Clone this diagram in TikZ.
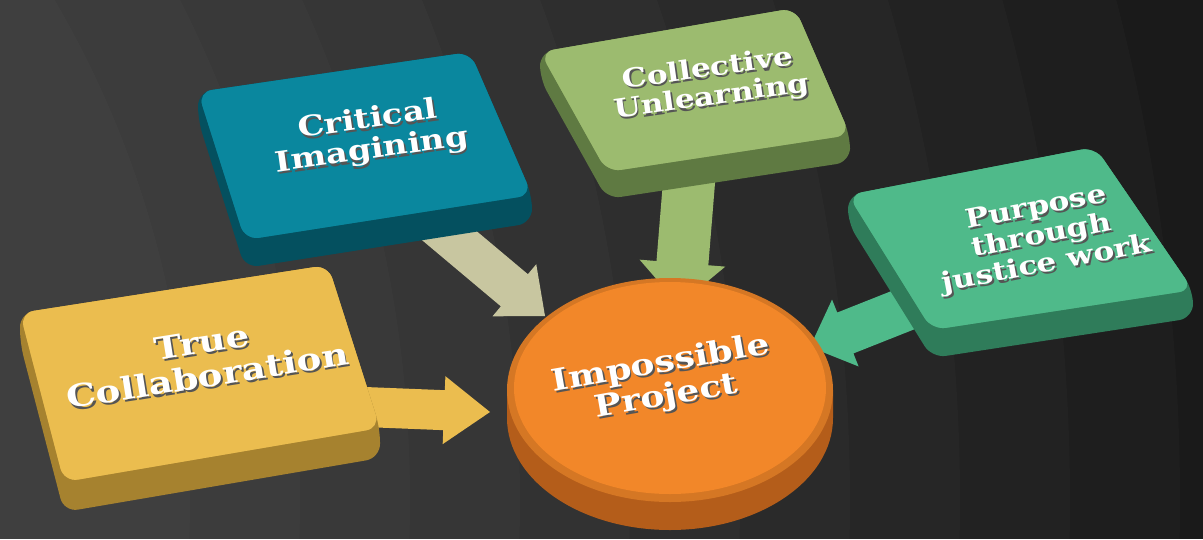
\documentclass[tikz,border=0pt]{standalone}
\usepackage{fontspec}
\newfontfamily\slabfont{DejaVu Serif}[FakeStretch=1.2]
\usetikzlibrary{calc}

\definecolor{bgdark}{HTML}{121212}
\definecolor{collabtop}{HTML}{EBBD4F}
\definecolor{collabside}{HTML}{A6822F}
\definecolor{criticaltop}{HTML}{0A879E}
\definecolor{criticalside}{HTML}{04505F}
\definecolor{unlearntop}{HTML}{9CBB6F}
\definecolor{unlearnside}{HTML}{5F7A42}
\definecolor{purposetop}{HTML}{4FBA8A}
\definecolor{purposeside}{HTML}{2F7C5A}
\definecolor{projecttop}{HTML}{F28729}
\definecolor{projectside}{HTML}{B45D1A}
\definecolor{critarrow}{HTML}{C8C6A0}
\definecolor{shadowgray}{HTML}{555555}

% block arrow: from, to, colour, shaft half width, head half width, head length
\newcommand{\blockarrow}[6]{%
  \coordinate (ah) at ($(#2)!#6!(#1)$);
  \fill[#3] ($(#1)!#4!90:(#2)$) -- ($(ah)!#4!90:(#2)$) -- ($(ah)!#5!90:(#2)$) -- (#2)
    -- ($(ah)!#5!-90:(#2)$) -- ($(ah)!#4!-90:(#2)$) -- ($(#1)!#4!-90:(#2)$) -- cycle;
}
% one line of text with its grey drop shadow
\newcommand{\shd}[1]{\leavevmode\rlap{\kern1.5pt\raisebox{-2.5pt}{\textcolor{shadowgray}{#1}}}#1}

\begin{document}
\begin{tikzpicture}
    [x=1pt, y=-1pt,
    boxtext/.style={text=white, align=center, inner sep=0pt,
      font=\slabfont\bfseries\linespread{1.1}\fontsize{#1}{#1}\selectfont},
    boxtext/.default=26,
    slab/.style={rounded corners=14pt}]

    \useasboundingbox (0,0) rectangle (1203,539);
    \clip (0,0) rectangle (1203,539);

    % background with soft rings
    \fill[bgdark] (0,0) rectangle (1203,539);
    \foreach \r in {2200,2090,...,900}
      \fill[white, opacity=0.018] (-800,500) circle (\r);

    % corners of the slabs
    \coordinate (c1) at (198,92);  \coordinate (c2) at (470,52);
    \coordinate (c3) at (532,195); \coordinate (c4) at (245,240);
    \coordinate (u1) at (540,52);  \coordinate (u2) at (795,8);
    \coordinate (u3) at (850,135); \coordinate (u4) at (607,172);
    \coordinate (p1) at (848,195); \coordinate (p2) at (1095,147);
    \coordinate (p3) at (1193,290);\coordinate (p4) at (932,330);
    \coordinate (t1) at (20,313);  \coordinate (t2) at (328,265);
    \coordinate (t3) at (380,428); \coordinate (t4) at (64,482);

    % arrow ends
    \coordinate (collab-out) at (340,406);
    \coordinate (project-w) at (490,412);
    \coordinate (critical-out) at (420,211);
    \coordinate (project-nw) at (545,316);
    \coordinate (unlearn-out) at (690,170);
    \coordinate (project-n) at (679,305);
    \coordinate (purpose-out) at (926,301);
    \coordinate (project-ne) at (810,347);

    \blockarrow{collab-out}{project-w}{collabtop}{20pt}{34pt}{46pt}
    \blockarrow{critical-out}{project-nw}{critarrow}{21pt}{34pt}{40pt}
    \blockarrow{unlearn-out}{project-n}{unlearntop}{26pt}{43pt}{42pt}
    \blockarrow{purpose-out}{project-ne}{purposetop}{22pt}{36pt}{38pt}

    % Critical Imagining
    \fill[slab, criticalside] (c1) -- (c2) -- (c3) -- ($(c3)+(0,28)$) -- ($(c4)+(0,28)$) -- ($(c1)+(0,28)$) -- cycle;
    \fill[slab, criticaltop!85!black] (c1) -- (c2) -- (c3) -- (c4) -- cycle;
    \fill[slab, criticaltop, scale around={0.955:($(c1)!0.5!(c3)$)}] (c1) -- (c2) -- (c3) -- (c4) -- cycle;

    % Collective Unlearning
    \fill[slab, unlearnside] (u1) -- (u2) -- (u3) -- ($(u3)+(0,27)$) -- ($(u4)+(0,27)$) -- ($(u1)+(0,27)$) -- cycle;
    \fill[slab, unlearntop!85!black] (u1) -- (u2) -- (u3) -- (u4) -- cycle;
    \fill[slab, unlearntop, scale around={0.955:($(u1)!0.5!(u3)$)}] (u1) -- (u2) -- (u3) -- (u4) -- cycle;

    % Purpose through justice work
    \fill[slab, purposeside] (p1) -- (p2) -- (p3) -- ($(p3)+(0,28)$) -- ($(p4)+(0,28)$) -- ($(p1)+(0,28)$) -- cycle;
    \fill[slab, purposetop!85!black] (p1) -- (p2) -- (p3) -- (p4) -- cycle;
    \fill[slab, purposetop, scale around={0.955:($(p1)!0.5!(p3)$)}] (p1) -- (p2) -- (p3) -- (p4) -- cycle;

    % True Collaboration
    \fill[slab, collabside] (t1) -- (t2) -- (t3) -- ($(t3)+(0,30)$) -- ($(t4)+(0,30)$) -- ($(t1)+(0,30)$) -- cycle;
    \fill[slab, collabtop!85!black] (t1) -- (t2) -- (t3) -- (t4) -- cycle;
    \fill[slab, collabtop, scale around={0.955:($(t1)!0.5!(t3)$)}] (t1) -- (t2) -- (t3) -- (t4) -- cycle;

    % Impossible Project
    \fill[projectside] (507,390) -- (507,418) arc[start angle=180, end angle=0, x radius=163, y radius=112]
      -- (833,390) -- cycle;
    \fill[projecttop!88!black] (670,390) ellipse [x radius=163, y radius=112];
    \fill[projecttop] (670,388) ellipse [x radius=156, y radius=106];

    % labels
    \node (collab) [boxtext=31, rotate=9] at (205,360) {\shd{True}\\\shd{Collaboration}};
    \node (critical) [boxtext=28, rotate=8] at (370,137) {\shd{Critical}\\\shd{Imagining}};
    \node (unlearn) [boxtext, rotate=8] at (710,85) {\shd{Collective}\\\shd{Unlearning}};
    \node (purpose) [boxtext, rotate=11] at (1042,238) {\shd{Purpose}\\\shd{through}\\\shd{justice work}};
    \node (project) [boxtext=30, rotate=10] at (664,382) {\shd{Impossible}\\\shd{Project}};

\end{tikzpicture}
\end{document}
